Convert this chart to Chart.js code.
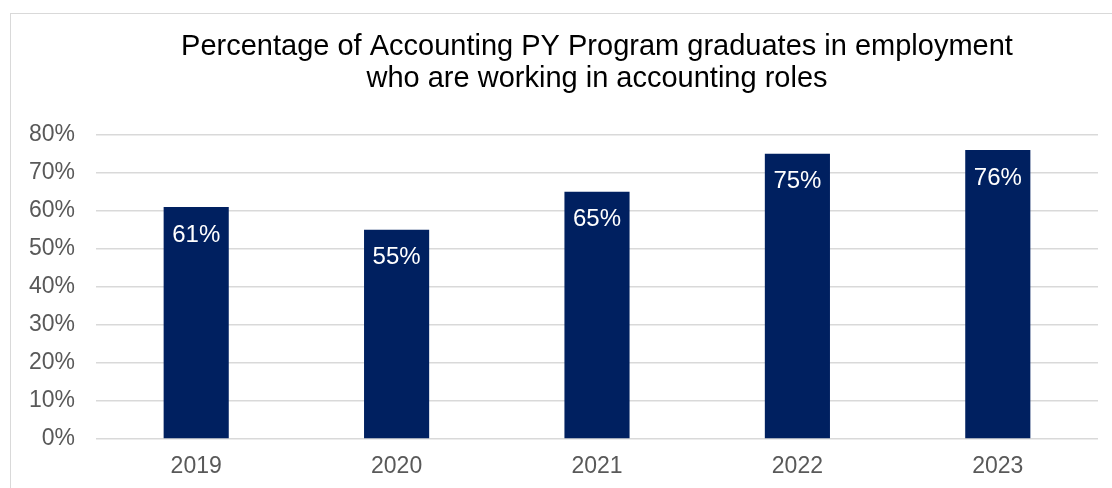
<!DOCTYPE html>
<html>
<head>
<meta charset="utf-8">
<script src="https://cdn.jsdelivr.net/npm/chart.js@4/dist/chart.umd.min.js"></script>
<style>
  html, body { margin: 0; padding: 0; background: #fff; overflow: hidden; }
  #wrap { position: relative; width: 1112px; height: 488px; }
  #frame { position: absolute; left: 10px; top: 13px; width: 1200px; height: 600px; border: 1.5px solid #d9d9d9; box-sizing: border-box; }
  canvas { position: absolute; left: 0; top: 0; }
</style>
</head>
<body>
<div id="wrap">
  <div id="frame"></div>
  <canvas id="canvas" width="1112" height="488"></canvas>
</div>
<script>
// chart data
const years = ['2019', '2020', '2021', '2022', '2023'];
const shareInAccounting = [61, 55, 65, 75, 76];
const titleLines = ['Percentage of Accounting PY Program graduates in employment', 'who are working in accounting roles'];

const fontFamily = '"Liberation Sans", Arial, sans-serif';

// white value labels just inside the top of each bar
const barLabels = {
  id: 'barLabels',
  afterDatasetsDraw(chart) {
    const ctx = chart.ctx;
    const meta = chart.getDatasetMeta(0);
    ctx.save();
    ctx.fillStyle = '#ffffff';
    ctx.font = '24px ' + fontFamily;
    ctx.textAlign = 'center';
    ctx.textBaseline = 'middle';
    meta.data.forEach((bar, i) => {
      ctx.fillText(shareInAccounting[i] + '%', bar.x, bar.y + 28);
    });
    ctx.restore();
  }
};

const Chart1 = new Chart(document.getElementById('canvas'), {
  type: 'bar',
  data: {
    labels: years,
    datasets: [{
      data: shareInAccounting,
      backgroundColor: '#002060',
      borderWidth: 0,
      categoryPercentage: 1,
      barPercentage: 0.325
    }]
  },
  options: {
    responsive: false,
    animation: false,
    layout: { padding: { left: 0, right: 14, top: 0, bottom: 0 } },
    plugins: {
      legend: { display: false },
      tooltip: { enabled: false },
      title: {
        display: true,
        text: titleLines,
        fullSize: false,
        color: '#000000',
        font: { family: fontFamily, size: 29, weight: 'normal', lineHeight: 1.1 },
        padding: { top: 31, bottom: 40 }
      }
    },
    scales: {
      x: {
        grid: { display: false, drawTicks: false },
        border: { display: false },
        ticks: { color: '#595959', font: { family: fontFamily, size: 23 }, padding: 14 },
        afterFit(s) { s.height = 49; }
      },
      y: {
        min: 0,
        max: 80,
        grid: { color: '#d9d9d9', lineWidth: 1.5, drawTicks: false },
        border: { display: false },
        ticks: {
          stepSize: 10,
          color: '#595959',
          font: { family: fontFamily, size: 23 },
          padding: 21,
          callback: v => v + '%'
        },
        afterFit(s) { s.width = 96; }
      }
    }
  },
  plugins: [barLabels]
});
</script>
</body>
</html>
